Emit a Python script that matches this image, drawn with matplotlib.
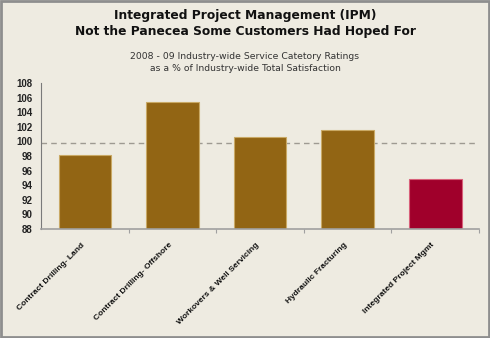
import matplotlib.pyplot as plt
import matplotlib.transforms as mtransforms
from matplotlib.patches import Rectangle
import numpy as np

categorias = [
    "Contract Drilling- Land",
    "Contract Drilling- Offshore",
    "Workovers & Well Servicing",
    "Hydraulic Fracturing",
    "Integrated Project Mgmt",
]
valores = [98.1, 105.4, 100.6, 101.6, 94.9]
cores = ["#926514", "#926514", "#926514", "#926514", "#A0002B"]
bordas = ["#C9A965", "#C9A965", "#C9A965", "#C9A965", "#D8607A"]
referencia = 99.8
y_ticks = list(range(88, 110, 2))

FUNDO = "#EEEBE1"
FONTE_EIXOS = "Liberation Sans"

fig = plt.figure(figsize=(4.9, 3.38), dpi=100, facecolor=FUNDO)

# moldura cinza em volta da figura
fig.patches.append(Rectangle((0.002, 0.003), 0.996, 0.994, transform=fig.transFigure,
                             fill=False, edgecolor="#8E8E8E", linewidth=2))

fig.text(0.5, 0.955, "Integrated Project Management (IPM)", ha="center", va="center",
         fontsize=8.8, fontweight="bold", color="#111111")
fig.text(0.5, 0.907, "Not the Panecea Some Customers Had Hoped For", ha="center", va="center",
         fontsize=8.8, fontweight="bold", color="#111111")
fig.text(0.5, 0.834, "2008 - 09 Industry-wide Service Catetory Ratings", ha="center", va="center",
         fontsize=6.7, color="#333333")
fig.text(0.5, 0.798, "as a % of Industry-wide Total Satisfaction", ha="center", va="center",
         fontsize=6.7, color="#333333")

ax = fig.add_axes([0.0837, 0.3225, 0.8939, 0.432])
ax.set_facecolor(FUNDO)

x = np.arange(len(categorias))
ax.bar(x, valores, bottom=0, width=0.6, color=cores, edgecolor=bordas, linewidth=0.8, zorder=2)
ax.axhline(referencia, color="#9E9A92", linestyle=(0, (4, 3)), linewidth=1, zorder=1)

ax.set_xlim(-0.5, len(categorias) - 0.5)
ax.set_ylim(88, 108)
ax.set_yticks(y_ticks)
ax.set_yticklabels([str(v) for v in y_ticks], fontsize=7, fontweight="bold",
                   family=FONTE_EIXOS, color="#222222")
ax.tick_params(axis="y", length=0, pad=6)

ax.set_xticks(x)
ax.set_xticklabels(categorias, rotation=45, ha="right", rotation_mode="anchor",
                   fontsize=6.0, fontweight="bold", family=FONTE_EIXOS, color="#111111")
ax.tick_params(axis="x", which="major", length=0, pad=9)
# puxa os rótulos um pouco para a esquerda
desloca = mtransforms.ScaledTranslation(-4 / 100, 0, fig.dpi_scale_trans)
for rotulo in ax.get_xticklabels():
    rotulo.set_transform(rotulo.get_transform() + desloca)
ax.set_xticks(np.arange(len(categorias)) + 0.5, minor=True)
ax.tick_params(axis="x", which="minor", length=3, color="#A0A0A0", width=0.8)

for lado in ["top", "right"]:
    ax.spines[lado].set_visible(False)
ax.spines["left"].set_color("#7A7A7A")
ax.spines["left"].set_linewidth(0.8)
ax.spines["bottom"].set_color("#A0A0A0")
ax.spines["bottom"].set_linewidth(1.2)

plt.savefig("out.png", facecolor=FUNDO)
plt.close()
